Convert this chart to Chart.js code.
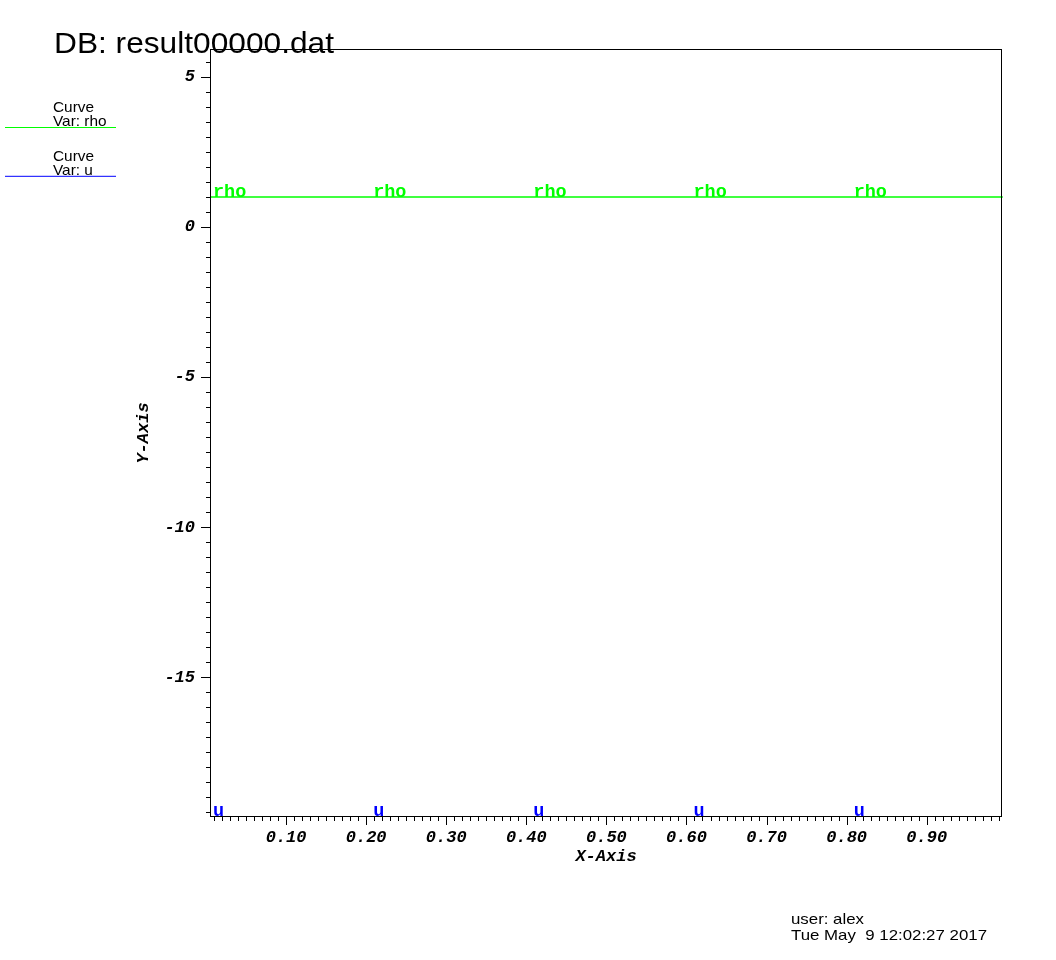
<!DOCTYPE html>
<html>
<head>
<meta charset="utf-8">
<title>DB: result00000.dat</title>
<script src="https://cdn.jsdelivr.net/npm/chart.js@4.4.1/dist/chart.umd.min.js"></script>
<style>
  html, body { margin: 0; padding: 0; background: #fff; }
  #wrap { width: 1056px; height: 960px; }
</style>
</head>
<body>
<div id="wrap"><canvas id="curveChart" width="1056" height="960"></canvas></div>
<script>
// Curve data
const xValues = [0.005, 0.205, 0.405, 0.605, 0.805, 0.995];
const rhoValues = [1, 1, 1, 1, 1, 1];
const uValues = [-19.65, -19.65, -19.65, -19.65, -19.65, -19.65];
const curveNames = ['rho', 'u'];
const curveColors = ['#00ff00', '#0000ff'];

// axis ranges and tick steps
const xRange = [0.005, 0.994];
const yRange = [-19.65, 5.93];
const xMajorStep = 0.1, xMinorStep = 0.01;
const yMajorStep = 5, yMinorStep = 0.5;

const dbTitle = 'DB: result00000.dat';
const userLine = 'user: alex';
const dateLine = 'Tue May  9 12:02:27 2017';

const SANS = "'Liberation Sans', Arial, sans-serif";
const MONO = "'Liberation Mono', 'DejaVu Sans Mono', monospace";

function isMultiple(v, step) {
    const r = v / step;
    return Math.abs(r - Math.round(r)) < 1e-6;
}

function toPoints(ys) {
    return xValues.map((x, i) => ({ x: x, y: ys[i] }));
}

// draws text at a font size, stretched sideways to the wanted width
function drawStretched(ctx, text, x, y, size, width, refText) {
    ctx.font = size + 'px ' + SANS;
    const w = ctx.measureText(refText || text).width;
    ctx.save();
    ctx.translate(x, y);
    ctx.scale(width / w, 1);
    ctx.fillText(text, 0, 0);
    ctx.restore();
}

const visitDecor = {
    id: 'visitDecor',
    afterDraw(chart) {
        const ctx = chart.ctx;
        const a = chart.chartArea;
        const xs = chart.scales.x;
        const ys = chart.scales.y;
        ctx.save();

        // curve labels along each line
        ctx.font = 'bold 18.5px ' + MONO;
        ctx.textBaseline = 'alphabetic';
        ctx.textAlign = 'left';
        chart.data.datasets.forEach(ds => {
            ctx.fillStyle = ds.borderColor;
            ds.data.slice(0, -1).forEach(p => {
                const px = xs.getPixelForValue(p.x);
                const py = Math.min(ys.getPixelForValue(p.y), a.bottom - 1);
                ctx.fillText(ds.label, px + 3, py);
            });
        });

        // frame
        ctx.strokeStyle = '#000';
        ctx.lineWidth = 1;
        ctx.strokeRect(a.left + 0.5, a.top + 0.5, a.right - a.left - 1, a.bottom - a.top - 1);

        // ticks, major longer than minor
        ctx.beginPath();
        xs.ticks.forEach(t => {
            const px = Math.round(xs.getPixelForValue(t.value)) + 0.5;
            const len = isMultiple(t.value, xMajorStep) ? 8 : 4;
            ctx.moveTo(px, a.bottom);
            ctx.lineTo(px, a.bottom + len);
        });
        ys.ticks.forEach(t => {
            const py = Math.round(ys.getPixelForValue(t.value)) + 0.5;
            const len = isMultiple(t.value, yMajorStep) ? 9 : 4;
            ctx.moveTo(a.left, py);
            ctx.lineTo(a.left - len, py);
        });
        ctx.stroke();

        // title
        ctx.fillStyle = '#000';
        drawStretched(ctx, dbTitle, 54, 53, 30, 280);

        // legend
        chart.data.datasets.forEach((ds, i) => {
            const y0 = 111.7 + i * 48.8;
            ctx.fillStyle = '#000';
            drawStretched(ctx, 'Curve', 53, y0, 14.5, 41);
            drawStretched(ctx, 'Var: ' + ds.label, 53, y0 + 14.5, 14.5, 41, 'Curve');
            ctx.strokeStyle = ds.borderColor;
            ctx.beginPath();
            ctx.moveTo(5, y0 + 15.8);
            ctx.lineTo(116, y0 + 15.8);
            ctx.stroke();
        });

        // user / date footer
        ctx.fillStyle = '#000';
        drawStretched(ctx, userLine, 791, 924, 14.5, 196, dateLine);
        drawStretched(ctx, dateLine, 791, 940, 14.5, 196);

        ctx.restore();
    }
};

const tickFont = { family: MONO, size: 17, weight: 'bold', style: 'italic' };

new Chart(document.getElementById('curveChart'), {
    type: 'line',
    data: {
        datasets: [
            { label: curveNames[0], data: toPoints(rhoValues), borderColor: curveColors[0], borderWidth: 1.5, pointRadius: 0, clip: 2 },
            { label: curveNames[1], data: toPoints(uValues), borderColor: curveColors[1], borderWidth: 1, pointRadius: 0, clip: 0 }
        ]
    },
    options: {
        responsive: false,
        animation: false,
        events: [],
        layout: { padding: { left: 0, top: 49, right: 54, bottom: 0 } },
        plugins: { legend: { display: false }, tooltip: { enabled: false } },
        scales: {
            x: {
                type: 'linear',
                min: xRange[0],
                max: xRange[1],
                grid: { display: false, drawTicks: false },
                border: { display: false },
                ticks: {
                    stepSize: xMinorStep,
                    includeBounds: false,
                    autoSkip: false,
                    maxRotation: 0,
                    minRotation: 0,
                    padding: 11,
                    color: '#000',
                    font: tickFont,
                    callback: v => isMultiple(v, xMajorStep) ? v.toFixed(2) : ''
                },
                title: { display: true, text: 'X-Axis', color: '#000', font: tickFont, padding: { top: 0, bottom: 93 } },
                afterFit: scale => { scale.height = 143; }
            },
            y: {
                type: 'linear',
                min: yRange[0],
                max: yRange[1],
                grid: { display: false, drawTicks: false },
                border: { display: false },
                ticks: {
                    stepSize: yMinorStep,
                    includeBounds: false,
                    autoSkip: false,
                    padding: 15,
                    color: '#000',
                    font: tickFont,
                    callback: v => isMultiple(v, yMajorStep) ? String(Math.round(v)) : ''
                },
                title: { display: true, text: 'Y-Axis', color: '#000', font: tickFont, padding: { top: 134, bottom: 0 } },
                afterFit: scale => { scale.width = 210; }
            }
        }
    },
    plugins: [visitDecor]
});
</script>
</body>
</html>
